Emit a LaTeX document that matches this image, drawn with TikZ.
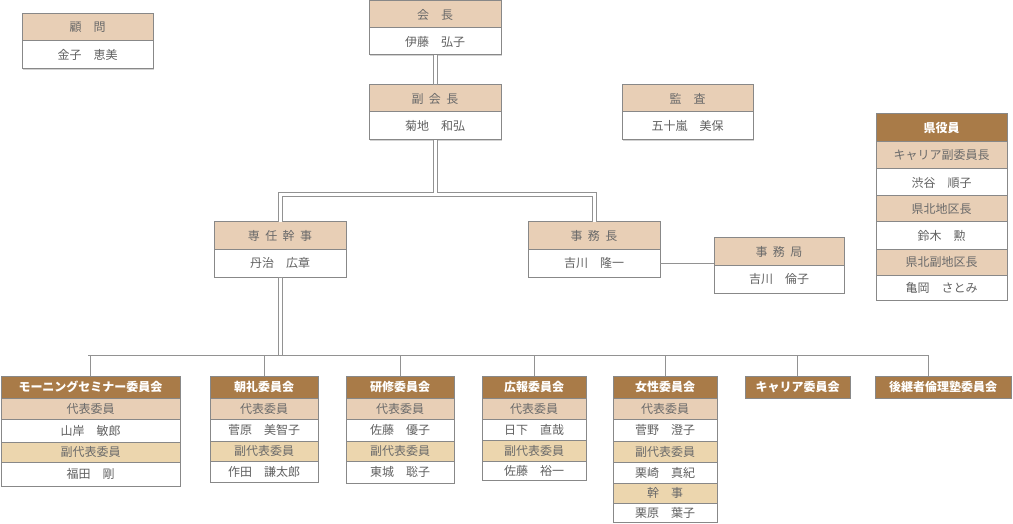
\documentclass[tikz,border=0pt]{standalone}
\usepackage{fontspec}
\usetikzlibrary{shadows}
\setmainfont{Noto Sans CJK JP}
\definecolor{hdtan}{HTML}{E8CFB6}
\definecolor{subtan}{HTML}{ECD6AE}
\definecolor{darkbr}{HTML}{A97B48}
\definecolor{bordergray}{HTML}{888888}
\definecolor{linegray}{HTML}{929292}
\definecolor{txtgray}{HTML}{6A6A6A}
\definecolor{shadowgray}{HTML}{D2D2D2}
\tikzset{
  cellbase/.style={draw=bordergray, line width=1pt, inner sep=0pt, outer sep=0pt,
    font=\fontsize{12}{14}\selectfont, text=txtgray,
    drop shadow={shadow xshift=1.2pt, shadow yshift=-1.2pt, fill=shadowgray, opacity=1}},
  hdcell/.style={cellbase, fill=hdtan},
  subcell/.style={cellbase, fill=subtan},
  namecell/.style={cellbase, fill=white, text=black!62},
  darkcell/.style={cellbase, fill=darkbr, text=white, font=\fontsize{12}{14}\selectfont\bfseries},
  conn/.style={draw=linegray, line width=1pt},
  dblout/.style={draw=linegray, line width=5pt},
  dblin/.style={draw=white, line width=3pt},
}
\newcommand\gp{\hspace{0.45em}}
% \mkcell{style}{name}{x1}{y1}{x2}{y2}{text}
\newcommand\mkcell[7]{\node[#1, minimum width={(#5-#3)*1pt}, minimum height={(#6-#4)*1pt}] (#2) at ({(#3+#5)/2},{(#4+#6)/2}) {#7};}
\begin{document}
\begin{tikzpicture}[x=1pt,y=-1pt]
\useasboundingbox (0,0) rectangle (1013,524);

\coordinate (split) at (435,195);
\coordinate (busL) at (88,355);
\coordinate (busR) at (928,355);

% top boxes
\mkcell{hdcell}{komonH}{22}{14}{153}{41}{顧　問}
\mkcell{namecell}{komonN}{22}{41}{153}{69}{金子　恵美}

\mkcell{hdcell}{kaichoH}{369}{1}{501}{28}{会　長}
\mkcell{namecell}{kaichoN}{369}{28}{501}{55}{伊藤　弘子}

\mkcell{hdcell}{fukuH}{369}{85}{501}{112}{副\gp 会\gp 長}
\mkcell{namecell}{fukuN}{369}{112}{501}{140}{菊地　和弘}

\mkcell{hdcell}{kansaH}{622}{85}{753}{112}{監　査}
\mkcell{namecell}{kansaN}{622}{112}{753}{140}{五十嵐　美保}

\mkcell{darkcell}{kenH}{876}{114}{1007}{142}{県役員}
\mkcell{hdcell}{ken1}{876}{142}{1007}{169}{キャリア副委員長}
\mkcell{namecell}{ken2}{876}{169}{1007}{196}{渋谷　順子}
\mkcell{hdcell}{ken3}{876}{196}{1007}{222}{県北地区長}
\mkcell{namecell}{ken4}{876}{222}{1007}{249}{鈴木　勲}
\mkcell{hdcell}{ken5}{876}{249}{1007}{275}{県北副地区長}
\mkcell{namecell}{ken6}{876}{275}{1007}{300}{亀岡　さとみ}

\mkcell{hdcell}{senninH}{214}{222}{346}{249}{専\gp 任\gp 幹\gp 事}
\mkcell{namecell}{senninN}{214}{249}{346}{277}{丹治　広章}

\mkcell{hdcell}{jimuH}{528}{222}{660}{249}{事\gp 務\gp 長}
\mkcell{namecell}{jimuN}{528}{249}{660}{277}{吉川　隆一}

\mkcell{hdcell}{kyokuH}{714}{238}{844}{265}{事\gp 務\gp 局}
\mkcell{namecell}{kyokuN}{714}{265}{844}{293}{吉川　倫子}

% committees
\mkcell{darkcell}{mornH}{1}{376}{180}{398}{モーニングセミナー委員会}
\mkcell{hdcell}{morn1}{1}{398}{180}{419}{代表委員}
\mkcell{namecell}{morn2}{1}{419}{180}{442}{山岸　敏郎}
\mkcell{subcell}{morn3}{1}{442}{180}{462}{副代表委員}
\mkcell{namecell}{morn4}{1}{462}{180}{486}{福田　剛}

\mkcell{darkcell}{choH}{210}{376}{318}{398}{朝礼委員会}
\mkcell{hdcell}{cho1}{210}{398}{318}{419}{代表委員}
\mkcell{namecell}{cho2}{210}{419}{318}{441}{菅原　美智子}
\mkcell{subcell}{cho3}{210}{441}{318}{461}{副代表委員}
\mkcell{namecell}{cho4}{210}{461}{318}{482}{作田　謙太郎}

\mkcell{darkcell}{kenshuH}{346}{376}{454}{398}{研修委員会}
\mkcell{hdcell}{kenshu1}{346}{398}{454}{419}{代表委員}
\mkcell{namecell}{kenshu2}{346}{419}{454}{441}{佐藤　優子}
\mkcell{subcell}{kenshu3}{346}{441}{454}{461}{副代表委員}
\mkcell{namecell}{kenshu4}{346}{461}{454}{483}{東城　聡子}

\mkcell{darkcell}{kohoH}{482}{376}{586}{398}{広報委員会}
\mkcell{hdcell}{koho1}{482}{398}{586}{419}{代表委員}
\mkcell{namecell}{koho2}{482}{419}{586}{440}{日下　直哉}
\mkcell{subcell}{koho3}{482}{440}{586}{461}{副代表委員}
\mkcell{namecell}{koho4}{482}{461}{586}{480}{佐藤　裕一}

\mkcell{darkcell}{joseiH}{613}{376}{717}{398}{女性委員会}
\mkcell{hdcell}{josei1}{613}{398}{717}{419}{代表委員}
\mkcell{namecell}{josei2}{613}{419}{717}{441}{菅野　澄子}
\mkcell{subcell}{josei3}{613}{441}{717}{462}{副代表委員}
\mkcell{namecell}{josei4}{613}{462}{717}{483}{栗崎　真紀}
\mkcell{subcell}{josei5}{613}{483}{717}{503}{幹　事}
\mkcell{namecell}{josei6}{613}{503}{717}{522}{栗原　葉子}

\mkcell{darkcell}{careerH}{745}{376}{850}{398}{キャリア委員会}
\mkcell{darkcell}{koukeiH}{875}{376}{1011}{398}{後継者倫理塾委員会}

% double connectors: grey outer pass, then white inner pass
\draw[dblout] (kaichoN.south) -- (fukuH.north);
\draw[dblout] (fukuN.south) -- (split);
\draw[dblout] (senninH.north) |- (split) -| (jimuH.north);
\draw[dblout] (senninN.south) -- (senninN.south |- busL);
\draw[dblin] ([yshift=-0.5pt]kaichoN.south) -- ([yshift=0.5pt]fukuH.north);
\draw[dblin] ([yshift=-0.5pt]fukuN.south) -- (split);
\draw[dblin] ([yshift=-0.5pt]senninH.north) |- (split) -| ([yshift=-0.5pt]jimuH.north);
\draw[dblin] ([yshift=-0.5pt]senninN.south) -- ([yshift=-1pt]senninN.south |- busL);

% single connectors
\draw[conn] (busL) -- (busR);
\foreach \c in {mornH,choH,kenshuH,kohoH,joseiH,careerH}{
  \draw[conn] (\c.north) -- (\c.north |- busL);
}
\draw[conn] (busR) -- (busR |- koukeiH.north);
\draw[conn] (jimuN.east) -- (jimuN.east -| kyokuH.west);
\end{tikzpicture}
\end{document}
